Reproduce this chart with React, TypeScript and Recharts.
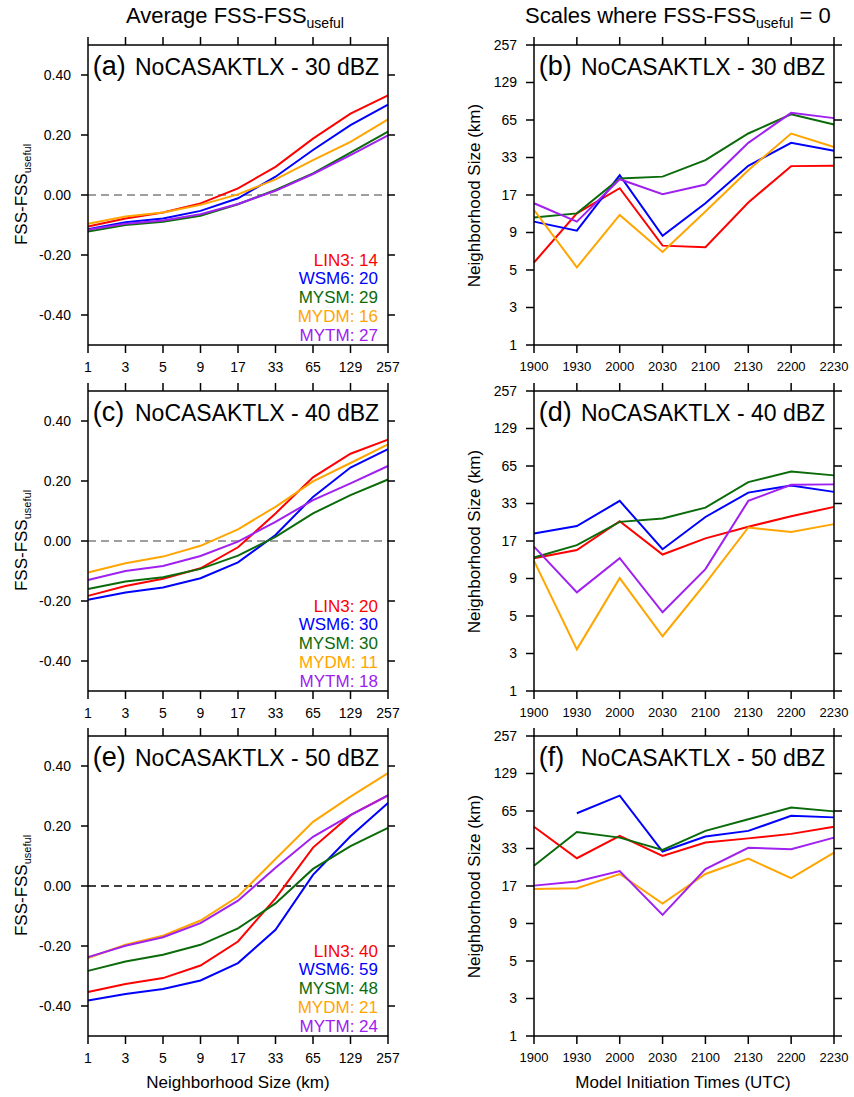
import React from 'react';
import { LineChart, Line, XAxis, YAxis, ReferenceLine } from 'recharts';

const SIZES = ['1', '3', '5', '9', '17', '33', '65', '129', '257'];
const TIMES = ['1900', '1930', '2000', '2030', '2100', '2130', '2200', '2230'];
const SCHEMES = ['LIN3', 'WSM6', 'MYSM', 'MYDM', 'MYTM'];
const COLORS = ['#ff0000', '#0000ff', '#0b6b0b', '#ffa500', '#a020f0'];

// average FSS - FSS_useful per neighborhood size, rows in SCHEMES order
const avg30 = [
  [-0.105, -0.078, -0.058, -0.028, 0.022, 0.094, 0.188, 0.271, 0.332],
  [-0.114, -0.091, -0.078, -0.053, -0.011, 0.061, 0.15, 0.233, 0.301],
  [-0.122, -0.1, -0.089, -0.069, -0.031, 0.017, 0.072, 0.141, 0.211],
  [-0.096, -0.072, -0.058, -0.033, 0.002, 0.052, 0.116, 0.177, 0.252],
  [-0.116, -0.096, -0.085, -0.064, -0.03, 0.014, 0.07, 0.133, 0.199],
];
const avg40 = [
  [-0.183, -0.15, -0.126, -0.091, -0.021, 0.092, 0.212, 0.291, 0.338],
  [-0.196, -0.172, -0.155, -0.124, -0.071, 0.02, 0.147, 0.245, 0.306],
  [-0.16, -0.135, -0.121, -0.093, -0.049, 0.014, 0.092, 0.153, 0.205],
  [-0.105, -0.074, -0.052, -0.016, 0.039, 0.114, 0.199, 0.26, 0.322],
  [-0.13, -0.1, -0.083, -0.05, -0.002, 0.064, 0.136, 0.192, 0.25],
];
const avg50 = [
  [-0.353, -0.327, -0.307, -0.265, -0.185, -0.041, 0.128, 0.236, 0.302],
  [-0.382, -0.36, -0.343, -0.315, -0.257, -0.146, 0.037, 0.166, 0.277],
  [-0.283, -0.252, -0.229, -0.196, -0.141, -0.058, 0.057, 0.133, 0.194],
  [-0.24, -0.196, -0.166, -0.115, -0.035, 0.09, 0.214, 0.298, 0.376],
  [-0.237, -0.199, -0.171, -0.124, -0.049, 0.061, 0.164, 0.236, 0.302],
];

// scale where FSS = FSS_useful, as position on the size ladder (0 = 1 km ... 8 = 257 km)
const scale30 = [
  [2.2, 3.51, 4.18, 2.65, 2.61, 3.8, 4.77, 4.78],
  [3.29, 3.05, 4.53, 2.91, 3.78, 4.78, 5.39, 5.18],
  [3.4, 3.51, 4.44, 4.49, 4.93, 5.64, 6.15, 5.88],
  [3.6, 2.07, 3.47, 2.48, 3.56, 4.66, 5.64, 5.28],
  [3.78, 3.29, 4.42, 4.02, 4.28, 5.39, 6.19, 6.05],
];
const scale40 = [
  [3.54, 3.76, 4.53, 3.64, 4.07, 4.38, 4.66, 4.91],
  [4.2, 4.4, 5.07, 3.78, 4.64, 5.29, 5.48, 5.31],
  [3.56, 3.89, 4.51, 4.6, 4.89, 5.57, 5.85, 5.75],
  [3.47, 1.11, 3.01, 1.46, 2.87, 4.36, 4.24, 4.45],
  [3.85, 2.63, 3.54, 2.1, 3.25, 5.07, 5.5, 5.51],
];
const scale50 = [
  [5.58, 4.74, 5.34, 4.8, 5.16, 5.27, 5.39, 5.58],
  [null, 5.94, 6.41, 4.92, 5.32, 5.47, 5.87, 5.83],
  [4.54, 5.44, 5.29, 4.96, 5.47, 5.78, 6.09, 5.99],
  [3.92, 3.94, 4.32, 3.53, 4.32, 4.73, 4.21, 4.89],
  [4.01, 4.12, 4.4, 3.23, 4.45, 5.02, 4.98, 5.29],
];

const counts30 = [14, 20, 29, 16, 27];
const counts40 = [20, 30, 30, 11, 18];
const counts50 = [40, 59, 48, 21, 24];

const MAJOR = [-0.4, -0.2, 0, 0.2, 0.4];
const MINOR = [-0.5, -0.45, -0.4, -0.35, -0.3, -0.25, -0.2, -0.15, -0.1, -0.05, 0, 0.05, 0.1, 0.15, 0.2, 0.25, 0.3, 0.35, 0.4, 0.45, 0.5];
const LEVELS = [0, 1, 2, 3, 4, 5, 6, 7, 8];

const TOPS = [44.5, 390.5, 735.5];
const FONT = '"Liberation Sans", Arial, Helvetica, sans-serif';

const axisLine = { stroke: '#000', strokeWidth: 1.5 };
const tickText = { fontSize: 14, fill: '#000' };
const blank = () => '';

function makeRows(cats: string[], key: string, rows: (number | null)[][]) {
  return cats.map((c, i) => {
    const d: any = { [key]: c };
    SCHEMES.forEach((s, j) => (d[s] = rows[j][i]));
    return d;
  });
}

function AvgPanel({ top, rows, zero }: { top: number; rows: number[][]; zero: string }) {
  const data = makeRows(SIZES, 'size', rows);
  return (
    <div style={{ position: 'absolute', left: 0, top: top - 12 }}>
      <LineChart width={427} height={360} data={data} margin={{ top: 2, right: 29, bottom: 18, left: 0 }}>
        <XAxis xAxisId="b" dataKey="size" interval={0} tickSize={8} tickMargin={9} height={30}
          tick={tickText} axisLine={axisLine} tickLine={axisLine} />
        <XAxis xAxisId="t" orientation="top" dataKey="size" interval={0} tickSize={8} height={10}
          tickFormatter={blank} axisLine={axisLine} tickLine={axisLine} />
        <YAxis yAxisId="mL" width={0} type="number" domain={[-0.5, 0.5]} allowDataOverflow ticks={MINOR}
          interval={0} tickSize={4} axisLine={false} tickLine={axisLine} tickFormatter={blank} />
        <YAxis yAxisId="y" width={88} type="number" domain={[-0.5, 0.5]} allowDataOverflow ticks={MAJOR}
          interval={0} tickSize={7} tickMargin={10} tick={tickText} axisLine={axisLine} tickLine={axisLine}
          tickFormatter={(v: number) => v.toFixed(2)} />
        <YAxis yAxisId="mR" orientation="right" width={0} type="number" domain={[-0.5, 0.5]} allowDataOverflow
          ticks={MINOR} interval={0} tickSize={4} axisLine={false} tickLine={axisLine} tickFormatter={blank} />
        <YAxis yAxisId="yR" orientation="right" width={10} type="number" domain={[-0.5, 0.5]} allowDataOverflow
          ticks={MAJOR} interval={0} tickSize={7} axisLine={axisLine} tickLine={axisLine} tickFormatter={blank} />
        <ReferenceLine xAxisId="b" yAxisId="y" y={0} stroke={zero} strokeWidth={1.5} strokeDasharray="8 5" />
        {SCHEMES.map((s, j) => (
          <Line key={s} xAxisId="b" yAxisId="y" dataKey={s} stroke={COLORS[j]} strokeWidth={2}
            dot={false} isAnimationActive={false} />
        ))}
      </LineChart>
    </div>
  );
}

function ScalePanel({ top, rows }: { top: number; rows: (number | null)[][] }) {
  const data = makeRows(TIMES, 'time', rows);
  return (
    <div style={{ position: 'absolute', left: 427, top: top - 12 }}>
      <LineChart width={427} height={360} data={data} margin={{ top: 2, right: 10, bottom: 18, left: 0 }}>
        <XAxis xAxisId="b" dataKey="time" interval={0} tickSize={8} tickMargin={9} height={30}
          tick={{ fontSize: 13, fill: '#000' }} axisLine={axisLine} tickLine={axisLine} />
        <XAxis xAxisId="t" orientation="top" dataKey="time" interval={0} tickSize={8} height={10}
          tickFormatter={blank} axisLine={axisLine} tickLine={axisLine} />
        <YAxis yAxisId="y" width={107} type="number" domain={[0, 8]} allowDataOverflow ticks={LEVELS}
          interval={0} tickSize={8} tickMargin={9} tick={tickText} axisLine={axisLine} tickLine={axisLine}
          tickFormatter={(v: number) => SIZES[v]} />
        <YAxis yAxisId="yR" orientation="right" width={10} type="number" domain={[0, 8]} allowDataOverflow
          ticks={LEVELS} interval={0} tickSize={8} axisLine={axisLine} tickLine={axisLine} tickFormatter={blank} />
        {SCHEMES.map((s, j) => (
          <Line key={s} xAxisId="b" yAxisId="y" dataKey={s} stroke={COLORS[j]} strokeWidth={2}
            dot={false} isAnimationActive={false} connectNulls={false} />
        ))}
      </LineChart>
    </div>
  );
}

const LETTERS = ['a', 'b', 'c', 'd', 'e', 'f'];
const DBZ = ['30', '40', '50'];
const COUNTS = [counts30, counts40, counts50];

export default function App() {
  return (
    <div style={{ position: 'absolute', left: 0, top: 0, width: 854, height: 1097, background: '#fff', fontFamily: FONT }}>
      <AvgPanel top={TOPS[0]} rows={avg30} zero="#808080" />
      <AvgPanel top={TOPS[1]} rows={avg40} zero="#808080" />
      <AvgPanel top={TOPS[2]} rows={avg50} zero="#000" />
      <ScalePanel top={TOPS[0]} rows={scale30} />
      <ScalePanel top={TOPS[1]} rows={scale40} />
      <ScalePanel top={TOPS[2]} rows={scale50} />
      <svg width={854} height={1097} style={{ position: 'absolute', left: 0, top: 0, pointerEvents: 'none' }} fontFamily={FONT}>
        <text x={126} y={23} fontSize={22} fill="#000">
          Average FSS-FSS<tspan fontSize={14} dy={5}>useful</tspan>
        </text>
        <text x={525} y={23} fontSize={22} fill="#000">
          Scales where FSS-FSS<tspan fontSize={14} dy={5}>useful</tspan>
          <tspan dy={-5}> = 0</tspan>
        </text>
        {TOPS.map((t, i) => (
          <g key={i}>
            <text transform={`translate(27,${t + 150}) rotate(-90)`} textAnchor="middle" fontSize={17} fill="#000">
              FSS-FSS<tspan fontSize={11} dy={4}>useful</tspan>
            </text>
            <text transform={`translate(480,${t + 151}) rotate(-90)`} textAnchor="middle" fontSize={17} fill="#000">
              Neighborhood Size (km)
            </text>
            {[0, 1].map((c) => (
              <text key={c} x={(c === 0 ? 88 : 534) + 4.7} y={t + 30.5} fill="#000">
                <tspan fontSize={27}>({LETTERS[i * 2 + c]})</tspan>
                <tspan x={(c === 0 ? 88 : 534) + 47} fontSize={23}>NoCASAKTLX - {DBZ[i]} dBZ</tspan>
              </text>
            ))}
            {SCHEMES.map((s, j) => (
              <text key={s} x={378} y={t + 221 + j * 18.9} textAnchor="end" fontSize={17} fill={COLORS[j]}>
                {s}: {COUNTS[i][j]}
              </text>
            ))}
          </g>
        ))}
        <text x={238} y={1088} textAnchor="middle" fontSize={17} fill="#000">Neighborhood Size (km)</text>
        <text x={683} y={1088} textAnchor="middle" fontSize={17} fill="#000">Model Initiation Times (UTC)</text>
      </svg>
    </div>
  );
}
